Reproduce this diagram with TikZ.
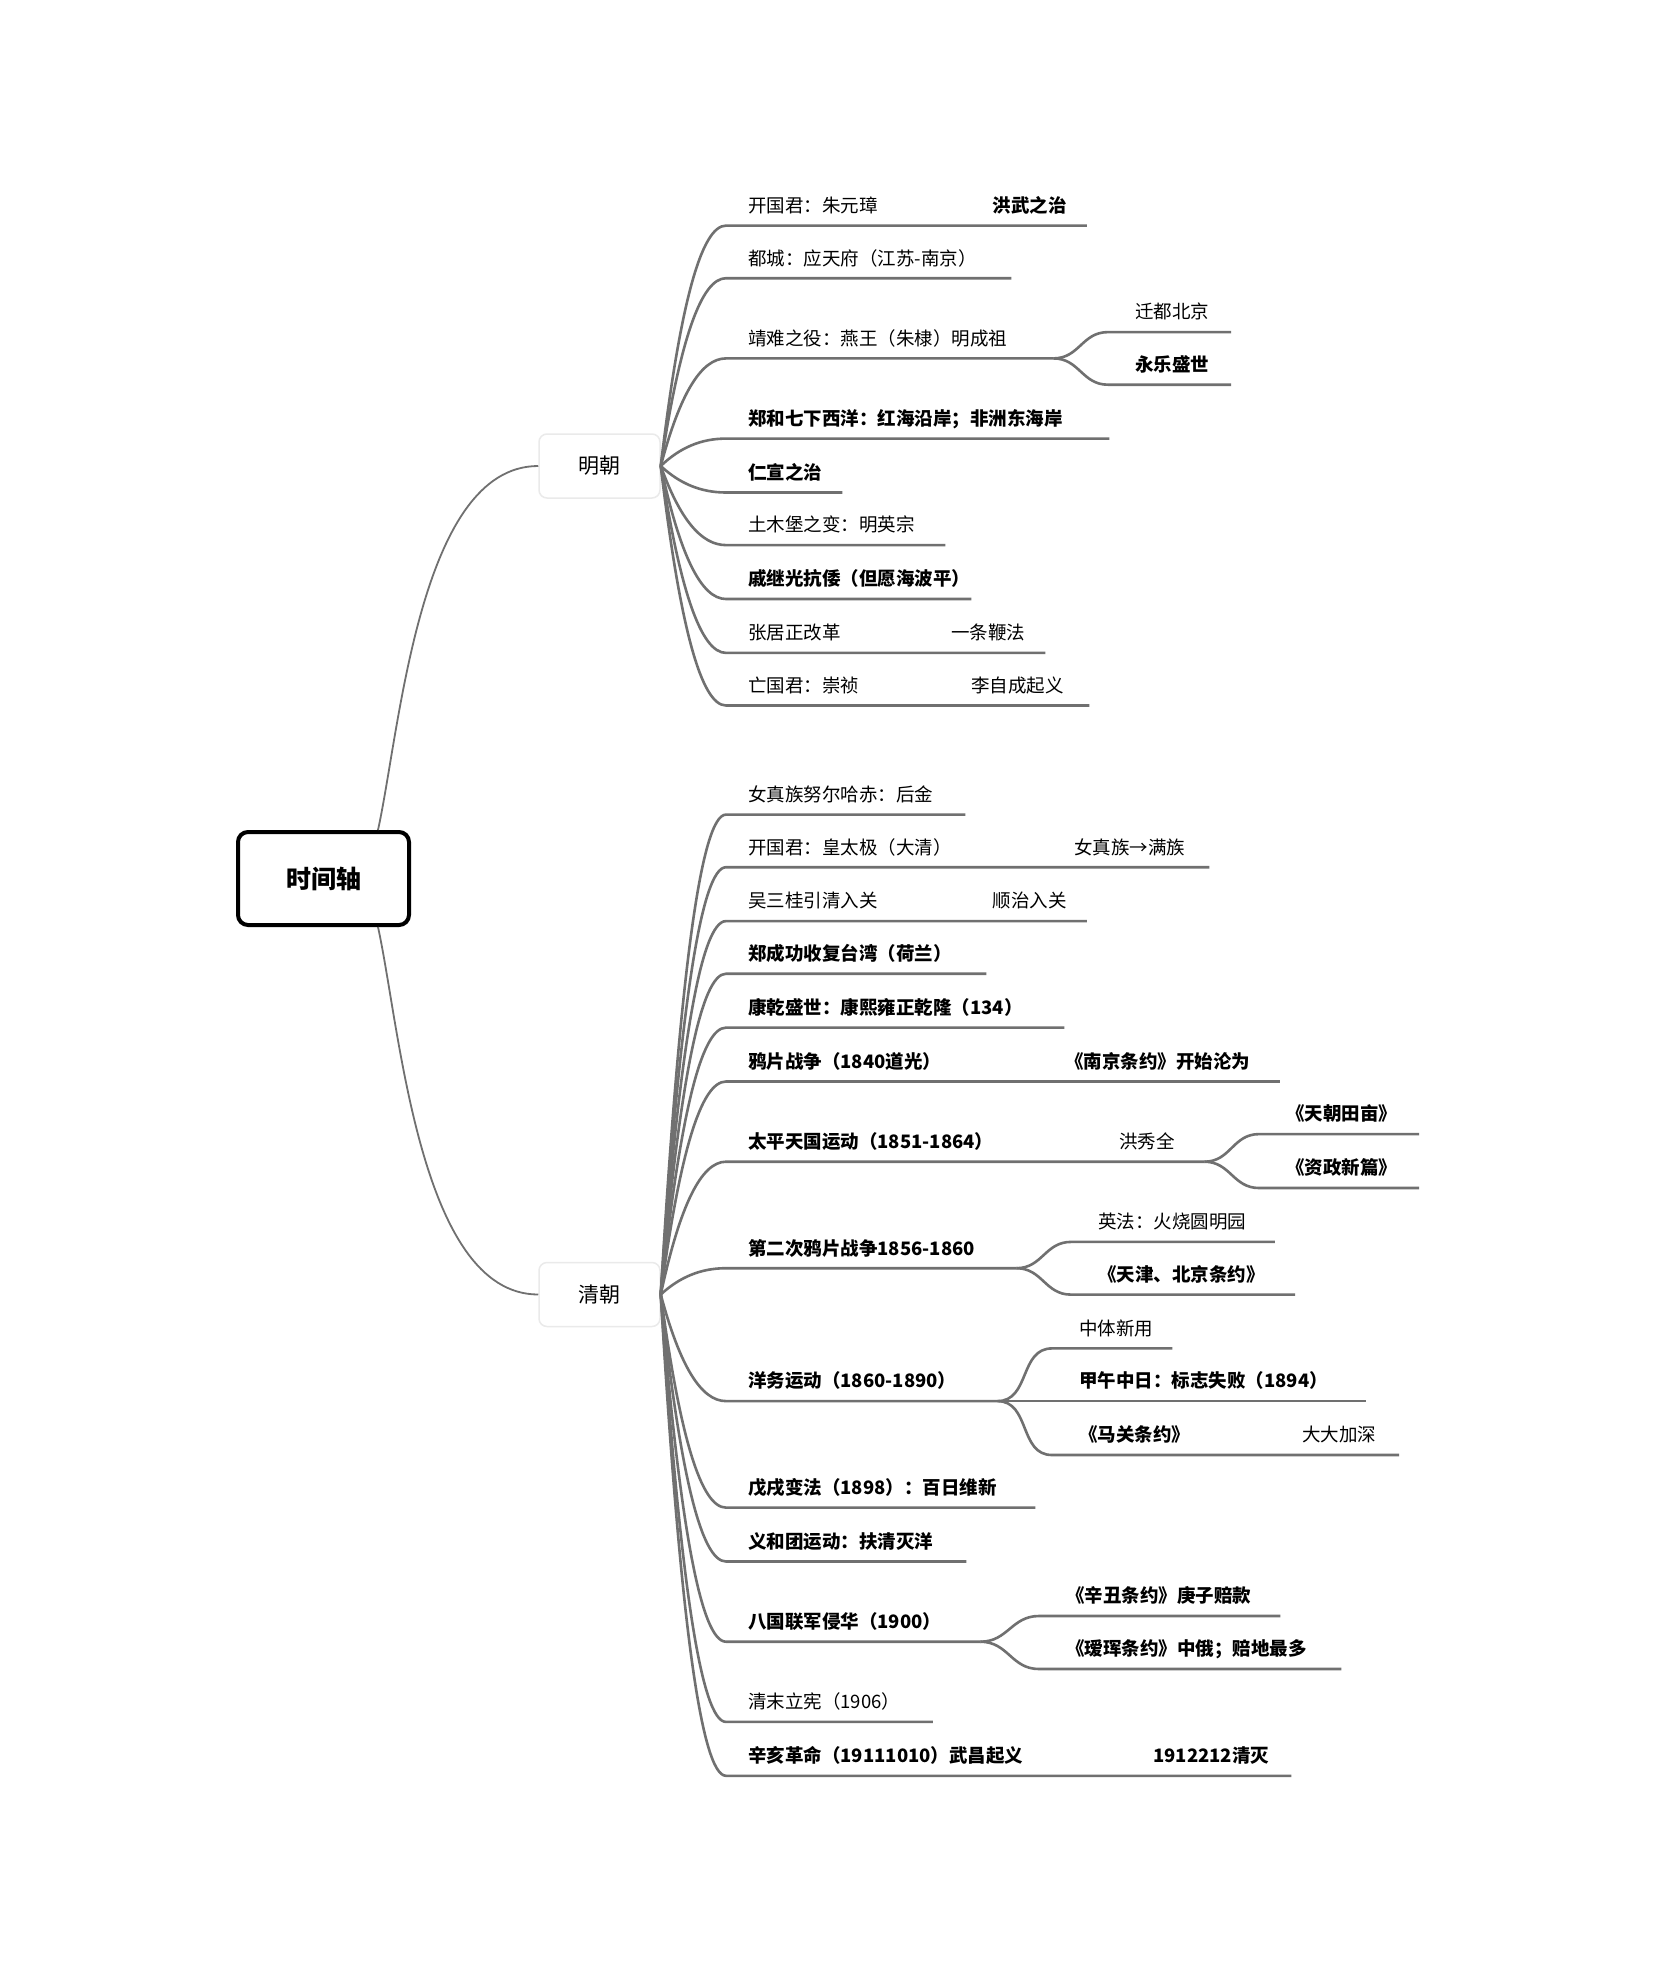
\documentclass[tikz,border=0pt]{standalone}
\usepackage{fontspec}
\setmainfont{Noto Sans CJK SC}
\usepackage{tikz}
\usetikzlibrary{calc, positioning}

\definecolor{linegray}{HTML}{707070}
\definecolor{boxgray}{HTML}{EAEAEA}
\newcommand{\rowfont}{\fontsize{18.5pt}{22pt}\selectfont}

\begin{document}
\begin{tikzpicture}[
    x=1pt, y=-1pt,
    root/.style={rectangle, draw=black, line width=4pt, rounded corners=10pt, minimum width=171pt, minimum height=93pt, align=center, font=\fontsize{25pt}{30pt}\selectfont\bfseries},
    dynasty/.style={rectangle, draw=boxgray, line width=1.5pt, rounded corners=8pt, fill=white, minimum width=121pt, minimum height=64pt, font=\fontsize{21pt}{25pt}\selectfont},
    note/.style={anchor=south west, inner sep=0pt, text height=15pt, text depth=13pt, font=\rowfont},
    item/.style={note, align=left, execute at begin node={\hspace*{22pt}}},
    subitem/.style={note, align=left, execute at begin node={\hspace*{27pt}}},
    strong/.style={font=\rowfont\bfseries},
    trunk/.style={draw=linegray, line width=1.8pt},
    branch/.style={draw=linegray, line width=2.6pt},
    fan/.style={to path={let \p1=(\tikztostart), \p2=(\tikztotarget) in
        .. controls (\x1+19pt, {0.333*(\y1)+0.667*(\y2)}) and (\x2-25pt, \y2) .. (\tikztotarget)}},
    fork/.style={out=0, in=180, looseness=1.1},
]
\fill[white] (0,0) rectangle (1653,1965);
\useasboundingbox (0,0) rectangle (1653,1965);

\node[root]    (root) at (323.5,878.5)  {时间轴};
\node[dynasty] (ming) at (599.5,466)    {明朝};
\node[dynasty] (qing) at (599.5,1294.5) {清朝};

% Ming rows
\node[item, text width=360.5pt]         (m1) at (726,225.6) {开国君：朱元璋};
\node[item, text width=285pt]           (m2) at (726,278.2) {都城：应天府（江苏-南京）};
\node[item, text width=327pt]           (m3) at (726,358.4) {靖难之役：燕王（朱棣）明成祖};
\node[subitem, text width=122.6pt]      (m3a) at (1108,332.1) {迁都北京};
\node[subitem, strong, text width=122.6pt] (m3b) at (1108,384.7) {永乐盛世};
\node[item, strong, text width=383pt]   (m4) at (726,438.6) {郑和七下西洋：红海沿岸；非洲东海岸};
\node[item, strong, text width=116pt]   (m5) at (726,492.5) {仁宣之治};
\node[item, text width=219pt]           (m6) at (726,545.1) {土木堡之变：明英宗};
\node[item, strong, text width=245pt]   (m7) at (726,599.0) {戚继光抗倭（但愿海波平）};
\node[item, text width=319pt]           (m8) at (726,652.9) {张居正改革};
\node[item, text width=363pt]           (m9) at (726,705.5) {亡国君：崇祯};
\node[note, strong] (m1r) at (992.5,225.6) {洪武之治};
\node[note]         (m8r) at (951,652.9)   {一条鞭法};
\node[note]         (m9r) at (971,705.5)   {李自成起义};

% Qing rows
\node[item, text width=239pt]           (q1) at (726,814.6)  {女真族努尔哈赤：后金};
\node[item, text width=483pt]           (q2) at (726,867.2)  {开国君：皇太极（大清）};
\node[item, text width=360.5pt]         (q3) at (726,921.1)  {吴三桂引清入关};
\node[item, strong, text width=260pt]   (q4) at (726,973.7)  {郑成功收复台湾（荷兰）};
\node[item, strong, text width=338pt]   (q5) at (726,1027.6) {康乾盛世：康熙雍正乾隆（134）};
\node[item, strong, text width=553.5pt] (q6) at (726,1081.5) {鸦片战争（1840道光）};
\node[item, strong, text width=478pt]   (q7) at (726,1161.7) {太平天国运动（1851-1864）};
\node[subitem, strong, text width=159.6pt] (q7a) at (1259,1134.1) {《天朝田亩》};
\node[subitem, strong, text width=159.6pt] (q7b) at (1259,1188)   {《资政新篇》};
\node[item, strong, text width=290pt]   (q8) at (726,1268.2) {第二次鸦片战争1856-1860};
\node[subitem, text width=203.5pt]         (q8a) at (1071,1241.9) {英法：火烧圆明园};
\node[subitem, strong, text width=223.6pt] (q8b) at (1071,1294.6) {《天津、北京条约》};
\node[item, strong, text width=271pt]   (q9) at (726,1401.1) {洋务运动（1860-1890）};
\node[subitem, text width=120pt]           (q9a) at (1052,1348.4) {中体新用};
\node[subitem, strong, text width=314pt]   (q9b) at (1052,1401.1) {甲午中日：标志失败（1894）};
\node[subitem, strong, text width=346.6pt] (q9c) at (1052,1455)   {《马关条约》};
\node[item, strong, text width=309pt]   (q10) at (726,1507.6) {戊戌变法（1898）：百日维新};
\node[item, strong, text width=240pt]   (q11) at (726,1561.5) {义和团运动：扶清灭洋};
\node[item, strong, text width=254pt]   (q12) at (726,1641.7) {八国联军侵华（1900）};
\node[subitem, strong, text width=241pt] (q12a) at (1039,1616) {《辛丑条约》庚子赔款};
\node[subitem, strong, text width=302pt] (q12b) at (1039,1669) {《瑷珲条约》中俄；赔地最多};
\node[item, text width=206.4pt]         (q13) at (726,1721.9) {清末立宪（1906）};
\node[item, strong, text width=565pt]   (q14) at (726,1775.8) {辛亥革命（19111010）武昌起义};
\node[note]         (q2r)  at (1074,867.2)   {女真族→满族};
\node[note]         (q3r)  at (992.5,921.1)  {顺治入关};
\node[note, strong] (q6r)  at (1065,1081.5)  {《南京条约》开始沦为};
\node[note]         (q7r)  at (1119,1161.7)  {洪秀全};
\node[note]         (q9cr) at (1302,1455)    {大大加深};
\node[note, strong] (q14r) at (1153,1775.8)  {1912212清灭};

% Root to dynasties
\draw[trunk] ([xshift=-33pt]root.north east) .. controls +(22,-100) and +(-119,0) .. (ming.west);
\draw[trunk] ([xshift=-33pt]root.south east) .. controls +(22,100) and +(-119,0) .. (qing.west);

% Ming branches
\foreach \r in {m1,m2,m3,m4,m5,m6,m7,m8,m9}
    \draw[branch] (ming.east) to[fan] (\r.south west) -- (\r.south east);
\draw[branch] (m3.south east) to[fork] (m3a.south west) -- (m3a.south east);
\draw[branch] (m3.south east) to[fork] (m3b.south west) -- (m3b.south east);

% Qing branches
\foreach \r in {q1,q2,q3,q4,q5,q6,q7,q8,q9,q10,q11,q12,q13,q14}
    \draw[branch] (qing.east) to[fan] (\r.south west) -- (\r.south east);
\draw[branch] (q7.south east) to[fork] (q7a.south west) -- (q7a.south east);
\draw[branch] (q7.south east) to[fork] (q7b.south west) -- (q7b.south east);
\draw[branch] (q8.south east) to[fork] (q8a.south west) -- (q8a.south east);
\draw[branch] (q8.south east) to[fork] (q8b.south west) -- (q8b.south east);
\draw[branch] (q9.south east) to[fork] (q9a.south west) -- (q9a.south east);
\draw[branch] (q9.south east) -- (q9b.south west) -- (q9b.south east);
\draw[branch] (q9.south east) to[fork] (q9c.south west) -- (q9c.south east);
\draw[branch] (q12.south east) to[fork] (q12a.south west) -- (q12a.south east);
\draw[branch] (q12.south east) to[fork] (q12b.south west) -- (q12b.south east);

\end{tikzpicture}
\end{document}
